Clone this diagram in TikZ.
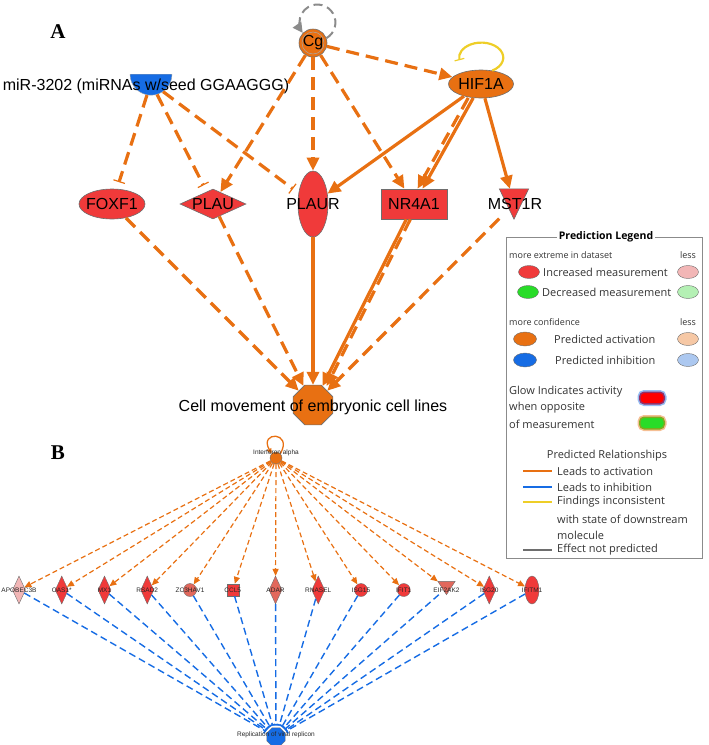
\documentclass[tikz,border=0pt]{standalone}
\usepackage{fontspec}
\setmainfont{Liberation Sans}
\newfontfamily\legfont{Open Sans}
\newfontfamily\panelfont{Liberation Serif}
\usetikzlibrary{shapes.geometric,arrows.meta}

\definecolor{ipaorange}{RGB}{232,112,18}
\definecolor{ipared}{RGB}{240,58,58}
\definecolor{ipablue}{RGB}{22,108,228}
\definecolor{ipayellow}{RGB}{238,206,40}
\definecolor{ipagray}{RGB}{110,110,110}
\definecolor{ipasalmon}{RGB}{226,104,92}
\definecolor{ipapink}{RGB}{242,182,182}
\definecolor{ipagreen}{RGB}{40,220,40}
\definecolor{palegreen}{RGB}{180,240,180}
\definecolor{paleorange}{RGB}{246,200,165}
\definecolor{paleblue}{RGB}{172,200,240}

\tikzset{
  gene/.style={draw=ipagray, line width=0.6pt, fill=ipared, inner sep=0pt},
  glabel/.style={font=\fontsize{16}{18}\selectfont, inner sep=0pt},
  actdash/.style={draw=ipaorange, line width=3.2pt, dash pattern=on 13pt off 7pt, -{Triangle[length=13pt,width=12pt]}},
  actsolid/.style={draw=ipaorange, line width=3.2pt, -{Triangle[length=13pt,width=12pt]}},
  inhdash/.style={draw=ipaorange, line width=3.2pt, dash pattern=on 13pt off 7pt, -{Bar[width=12pt,line width=1.2pt]}, shorten >=7pt},
  bgene/.style={draw=ipagray, line width=0.4pt, fill=ipared, inner sep=0pt},
  bdia/.style={bgene, diamond, minimum width=13pt, minimum height=28pt},
  bcirc/.style={bgene, circle, minimum size=13pt},
  blbl/.style={font=\fontsize{6.5}{7}\selectfont, inner sep=0pt, text=black!85},
  bact/.style={draw=ipaorange, line width=1.2pt, dash pattern=on 5pt off 3pt, -{Triangle[length=7pt,width=6pt]}},
  binh/.style={draw=ipablue, line width=1.4pt, dash pattern=on 7pt off 4pt, -{Bar[width=6pt]}, shorten >=2pt},
  legtxt/.style={font=\legfont\fontsize{11}{13}\selectfont, text=black!80, anchor=west, inner sep=0pt},
  legsmall/.style={font=\legfont\fontsize{9}{10}\selectfont, text=black!80, anchor=west, inner sep=0pt},
  legell/.style={ellipse, draw=ipagray, minimum width=21pt, minimum height=13pt, inner sep=0pt}
}

\begin{document}
\begin{tikzpicture}[x=1pt,y=1pt]
  \path[use as bounding box] (0,0) rectangle (709,-745);

  % panel A
  \node[font=\panelfont\bfseries\fontsize{21}{24}\selectfont] (panelA) at (58,-32) {A};
  \node[gene, circle, fill=ipaorange, minimum size=28pt, font=\fontsize{16}{18}\selectfont] (Cg) at (313,-43) {Cg};
  \draw[ipagray!60, line width=0.5pt] (Cg.center) circle (11pt);
  \node[gene, ellipse, fill=ipaorange, minimum width=65pt, minimum height=28pt, label={[glabel]center:HIF1A}] (HIF1A) at (481,-84) {};
  \node[semicircle, shape border rotate=180, fill=ipablue, draw=ipagray!60, minimum width=42pt, inner sep=0pt, anchor=chord center] (miR) at (151,-74) {};
  \node[glabel] (miRlbl) at (146,-86) {miR-3202 (miRNAs w/seed GGAAGGG)};

  \node[gene, ellipse, minimum width=66pt, minimum height=30pt, label={[glabel]center:FOXF1}] (FOXF1) at (112,-204) {};
  \node[gene, diamond, minimum width=66pt, minimum height=30pt, label={[glabel]center:PLAU}] (PLAU) at (213,-204) {};
  \node[gene, ellipse, minimum width=30pt, minimum height=66pt, label={[glabel]center:PLAUR}] (PLAUR) at (313,-204) {};
  \node[gene, rectangle, minimum width=66pt, minimum height=30pt, label={[glabel]center:NR4A1}] (NR4A1) at (414,-204) {};
  \node[inner sep=0pt, minimum width=29pt, minimum height=30pt] (MST1R) at (514,-204) {};
  \filldraw[fill=ipared, draw=ipagray, line width=0.6pt] (MST1R.north west) -- (MST1R.north east) -- (MST1R.south) -- cycle;
  \node[glabel] (MST1Rlbl) at (515,-204) {MST1R};

  \node[gene, regular polygon, regular polygon sides=8, minimum size=43pt, fill=ipaorange] (cellmov) at (313,-405) {};

  % self loops
  \draw[ipagray!80, line width=2pt, dash pattern=on 9pt off 5pt, -{Triangle[length=10pt,width=10pt]}] (Cg.20) arc[start angle=-60, end angle=215, radius=18pt];
  \draw[ipayellow, line width=2.2pt, -{Bar[width=10pt,line width=1.2pt]}] (HIF1A.50) arc[start angle=-60, end angle=190, x radius=22pt, y radius=15pt];

  \draw[actdash] (Cg) -- (HIF1A);
  \draw[actdash] (Cg) -- (PLAU);
  \draw[actdash] (Cg) -- (PLAUR);
  \draw[actdash] (Cg) -- (NR4A1);
  \draw[inhdash] (miR) -- (FOXF1);
  \draw[inhdash] (miR) -- (PLAU);
  \draw[inhdash] (miR) -- (PLAUR);
  \draw[actsolid] (HIF1A) -- (PLAUR);
  \draw[actsolid] (HIF1A) -- (NR4A1);
  \draw[actdash, transform canvas={xshift=-5pt}] (HIF1A) -- (NR4A1);
  \draw[actsolid] (HIF1A) -- (MST1R);
  \draw[actdash] (FOXF1) -- (cellmov);
  \draw[actdash] (PLAU) -- (cellmov);
  \draw[actsolid] (PLAUR) -- (cellmov);
  \draw[actsolid] (NR4A1) -- (cellmov);
  \draw[actdash, transform canvas={xshift=4pt}] (NR4A1) -- (cellmov);
  \draw[actdash] (MST1R) -- (cellmov);
  \node[glabel] (cellmovlbl) at (313,-407) {Cell movement of embryonic cell lines};

  % legend
  \draw[ipagray!80, line width=0.8pt] (506,-237) rectangle (702,-558);
  \node[fill=white, inner sep=2pt, font=\legfont\bfseries\fontsize{10.5}{12}\selectfont] (legtitle) at (606,-237) {Prediction Legend};
  \node[legsmall] (moreext) at (509,-255) {more extreme in dataset};
  \node[legsmall, anchor=center] (less1) at (688,-255) {less};
  \node[legell, fill=ipared] (incdark) at (529,-272) {};
  \node[legtxt] (inctxt) at (543,-272) {Increased measurement};
  \node[legell, fill=ipapink] (inclight) at (688,-272) {};
  \node[legell, fill=ipagreen] (decdark) at (528,-292) {};
  \node[legtxt] (dectxt) at (542,-292) {Decreased measurement};
  \node[legell, fill=palegreen] (declight) at (688,-292) {};
  \node[legsmall] (moreconf) at (509,-322) {more confidence};
  \node[legsmall, anchor=center] (less2) at (688,-322) {less};
  \node[legell, fill=ipaorange, minimum width=23pt, minimum height=14pt] (actdark) at (525,-339) {};
  \node[legtxt] (acttxt) at (554,-339) {Predicted activation};
  \node[legell, fill=paleorange] (actlight) at (688,-339) {};
  \node[legell, fill=ipablue, minimum width=23pt, minimum height=14pt] (inhdark) at (525,-360) {};
  \node[legtxt] (inhtxt) at (555,-360) {Predicted inhibition};
  \node[legell, fill=paleblue] (inhlight) at (688,-360) {};
  \node[legtxt] (glow1) at (509,-392) {Glow Indicates activity};
  \node[legtxt] (glow2) at (509,-408) {when opposite};
  \node[legtxt] (glow3) at (509,-424) {of measurement};
  \node[fill=red, rounded corners=5pt, minimum width=26pt, minimum height=13pt, draw=ipablue, draw opacity=0.45, line width=3pt] (glowred) at (652,-398) {};
  \node[fill=ipagreen, rounded corners=5pt, minimum width=26pt, minimum height=13pt, draw=ipaorange, draw opacity=0.45, line width=3pt] (glowgreen) at (652,-423) {};
  \node[legtxt, anchor=center] (reltitle) at (607,-456) {Predicted Relationships};
  \draw[ipaorange, line width=2.5pt] (523,-471) -- (552,-471);
  \node[legtxt] (reltxt1) at (557,-471) {Leads to activation};
  \draw[ipablue, line width=2.5pt] (523,-487) -- (552,-487);
  \node[legtxt] (reltxt2) at (557,-487) {Leads to inhibition};
  \draw[ipayellow, line width=2.5pt] (523,-502) -- (552,-502);
  \node[legtxt] (reltxt3) at (557,-502) {Findings inconsistent};
  \node[legtxt] (reltxt4) at (557,-519) {with state of downstream};
  \node[legtxt] (reltxt5) at (557,-535) {molecule};
  \draw[ipagray, line width=2.5pt] (523,-550) -- (552,-550);
  \node[legtxt] (reltxt6) at (557,-550) {Effect not predicted};

  % panel B
  \node[font=\panelfont\bfseries\fontsize{21}{24}\selectfont] (panelB) at (58,-453) {B};
  \node[bgene, circle, fill=ipaorange, minimum size=12pt] (ifn) at (276,-458) {};
  \node[bgene, regular polygon, regular polygon sides=8, minimum size=20pt, fill=ipablue] (repl) at (276,-737) {};

  \node[bdia, fill=ipapink, label={[blbl]center:APOBEC3B}] (apobec) at (19,-590) {};
  \node[bdia, label={[blbl]center:OAS1*}] (oas) at (61.75,-590) {};
  \node[bdia, label={[blbl]center:MX1}] (mx) at (104.5,-590) {};
  \node[bdia, label={[blbl]center:RSAD2}] (rsad) at (147.25,-590) {};
  \node[bcirc, fill=ipasalmon, label={[blbl]center:ZC3HAV1}] (zc) at (190,-590) {};
  \node[bgene, rectangle, minimum size=12pt, label={[blbl]center:CCL5}] (ccl) at (232.75,-590) {};
  \node[bdia, fill=ipasalmon, label={[blbl]center:ADAR}] (adar) at (275.5,-590) {};
  \node[bdia, label={[blbl]center:RNASEL}] (rnasel) at (318.25,-590) {};
  \node[bcirc, label={[blbl]center:ISG15}] (isg15) at (361,-590) {};
  \node[bcirc, label={[blbl]center:IFIT1}] (ifit) at (403.75,-590) {};
  \node[inner sep=0pt, minimum width=17pt, minimum height=13pt] (eif) at (446.5,-588) {};
  \filldraw[fill=ipasalmon, draw=ipagray, line width=0.4pt] (eif.north west) -- (eif.north east) -- (eif.south) -- cycle;
  \node[blbl] (eiflbl) at (446.5,-590) {EIF2AK2};
  \node[bdia, label={[blbl]center:ISG20}] (isg20) at (489.25,-590) {};
  \node[bgene, ellipse, minimum width=14pt, minimum height=28pt, label={[blbl]center:IFITM1}] (ifitm) at (532,-590) {};

  \draw[ipaorange, line width=1.3pt, -{Triangle[length=5pt,width=5pt]}] (ifn.north east) .. controls +(60:26) and +(120:26) .. (ifn.north west);
  \foreach \g in {apobec,oas,mx,rsad,zc,ccl,adar,rnasel,isg15,ifit,eif,isg20,ifitm} {
    \draw[bact] (ifn) -- (\g);
    \draw[binh] (\g) -- (repl);
  }
  \node[blbl] (ifnlbl) at (276,-453) {Interferon alpha};
  \node[blbl] (repllbl) at (276,-735) {Replication of viral replicon};
\end{tikzpicture}
\end{document}
